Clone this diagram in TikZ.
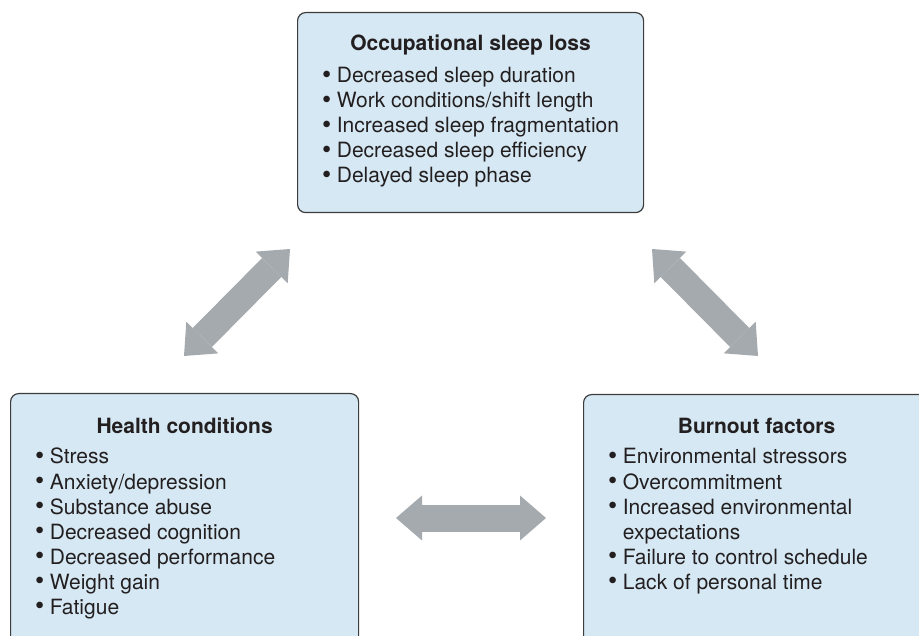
\documentclass[tikz,border=0pt]{standalone}
\usepackage{fontspec}
\setmainfont{TeX Gyre Heros}
\usetikzlibrary{arrows.meta}

\definecolor{panelblue}{HTML}{D5E8F3}
\definecolor{panelline}{HTML}{3C3C3C}
\definecolor{arrowgray}{HTML}{A5AAAE}
\definecolor{inkblack}{HTML}{231F20}

\newcommand{\bul}{\raisebox{-0.8pt}{\scalebox{1.25}{\textbullet}}\hspace{5.5pt}}

\tikzset{
  panel/.style={draw=panelline, line width=1.2pt, fill=panelblue, rounded corners=8pt,
    anchor=north west, minimum width=346pt, inner sep=0pt},
  head/.style={anchor=base, inner sep=0pt, text=inkblack,
    font=\fontsize{21}{25}\selectfont\bfseries},
  item/.style={anchor=base west, inner sep=0pt, text=inkblack,
    font=\fontsize{21}{25}\selectfont},
  twoway/.style={draw=arrowgray, line width=27pt,
    {Triangle[length=26pt,width=45pt,line width=0pt]}-{Triangle[length=26pt,width=45pt,line width=0pt]}}
}

\begin{document}
\begin{tikzpicture}[x=1pt,y=-1pt]
\useasboundingbox (0,0) rectangle (919,636);

% panels
\node[panel, minimum height=200pt] (sleep) at (297,12) {};
\node[panel, minimum width=348pt, minimum height=260pt] (health) at (10,393) {};
\node[panel, minimum height=260pt] (burnout) at (583,394) {};

% titles
\node[head] (sleephead) at ([yshift=-39pt]sleep.north) {Occupational sleep loss};
\node[head] (healthhead) at ([yshift=-40pt]health.north) {Health conditions};
\node[head] (burnouthead) at ([yshift=-40pt]burnout.north) {Burnout factors};

% bullet lists
\foreach \txt [count=\i] in {Decreased sleep duration, Work conditions/shift length,
    Increased sleep fragmentation, Decreased sleep efficiency, Delayed sleep phase}
  \node[item] (sleep\i) at ([shift={(25,46+25*\i)}]sleep.north west) {\bul\txt};

\foreach \txt [count=\i] in {Stress, Anxiety/depression, Substance abuse,
    Decreased cognition, Decreased performance, Weight gain, Fatigue}
  \node[item] (health\i) at ([shift={(25,46+25*\i)}]health.north west) {\bul\txt};

\foreach \i/\txt in {1/Environmental stressors, 2/Overcommitment, 3/Increased environmental,
    5/Failure to control schedule, 6/Lack of personal time}
  \node[item] (burnout\i) at ([shift={(25,45+25*\i)}]burnout.north west) {\bul\txt};
\node[item] (burnout4) at ([shift={(25,145)}]burnout.north west) {\hphantom{\bul}expectations};

% two-way arrows between the panels
\coordinate (sh1) at (184,356);
\coordinate (sh2) at (290,249);
\coordinate (sb1) at (652,249);
\coordinate (sb2) at (758,356);
\coordinate (hb1) at (396,518);
\coordinate (hb2) at (546,518);
\draw[twoway] (sh1) -- (sh2);
\draw[twoway] (sb1) -- (sb2);
\draw[twoway] (hb1) -- (hb2);
\end{tikzpicture}
\end{document}
